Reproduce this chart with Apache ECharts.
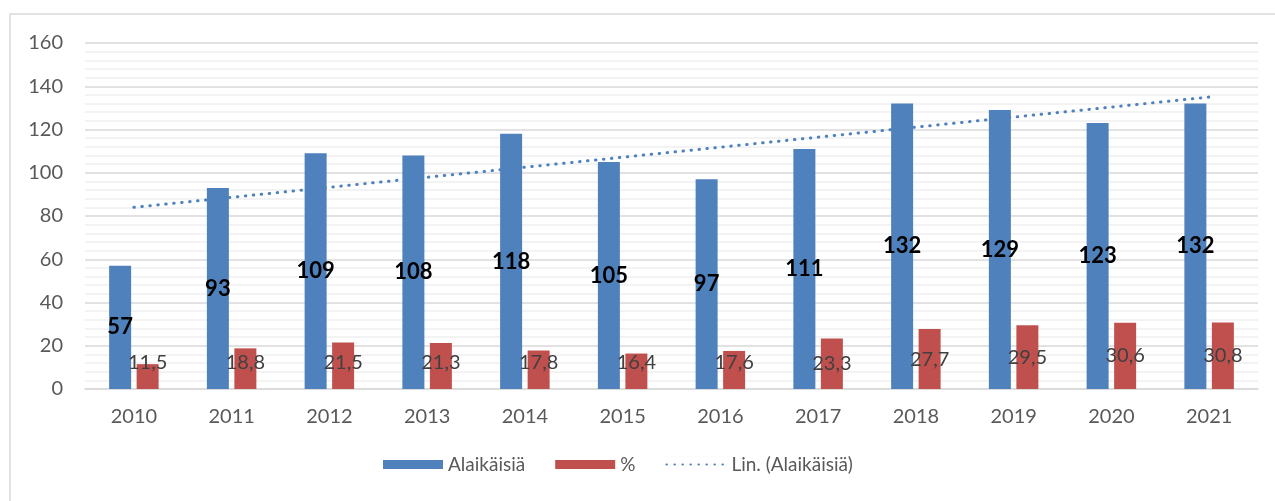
<!DOCTYPE html>
<html>
<head>
<meta charset="utf-8">
<script src="https://cdn.jsdelivr.net/npm/echarts@6/dist/echarts.min.js"></script>
<style>
html,body{margin:0;padding:0;background:#fff;}
#chart{width:1275px;height:501px;}
</style>
</head>
<body>
<div id="chart"></div>
<script>
// vuodet ja arvot
var years = ['2010','2011','2012','2013','2014','2015','2016','2017','2018','2019','2020','2021'];
var alaikaisia = [57, 93, 109, 108, 118, 105, 97, 111, 132, 129, 123, 132];
var prosentti = [11.5, 18.8, 21.5, 21.3, 17.8, 16.4, 17.6, 23.3, 27.7, 29.5, 30.6, 30.8];
// trendiviivan päätepisteet (luettu kuvasta)
var trendStart = 84;
var trendEnd = 135;
var yTicks = [0, 20, 40, 60, 80, 100, 120, 140, 160];

var font = 'Lato, "Open Sans", sans-serif';
var trendData = [];
for(var i=0;i<years.length;i++){
	trendData.push(null);
}
trendData[0] = trendStart;
trendData[years.length-1] = trendEnd;

var pctData = [];
for(var i=0;i<prosentti.length;i++){
	if(prosentti[i] < 22){
		pctData.push({value: prosentti[i], label: {position: 'insideBottom', distance: 16}});
	}
	else{
		pctData.push(prosentti[i]);
	}
}

var myChart = echarts.init(document.getElementById('chart'));
var option = {
	animation: false,
	textStyle: {fontFamily: font},
	graphic: [{
		type: 'rect',
		shape: {x: 10, y: 14, width: 1300, height: 600},
		style: {fill: 'none', stroke: '#d9d9d9', lineWidth: 1.5},
		silent: true
	}],
	grid: {left: 85, right: 17, top: 43, bottom: 112},
	legend: {
		bottom: 22,
		left: 378,
		itemWidth: 60,
		itemHeight: 9,
		itemGap: 30,
		textStyle: {color: '#595959', fontSize: 19, fontFamily: font},
		data: [
			{name: 'Alaikäisiä', icon: 'rect'},
			{name: '%', icon: 'rect'},
			{name: 'Lin. (Alaikäisiä)', icon: 'inherit', itemStyle: {color: 'rgba(0,0,0,0)', borderWidth: 0}}
		]
	},
	xAxis: {
		type: 'category',
		data: years,
		axisTick: {show: false},
		axisLine: {lineStyle: {color: '#d9d9d9', width: 1.5}},
		axisLabel: {color: '#595959', fontSize: 20, margin: 18, fontFamily: font}
	},
	yAxis: {
		type: 'value',
		min: yTicks[0],
		max: yTicks[yTicks.length-1],
		interval: 20,
		axisLine: {show: false},
		axisTick: {show: false},
		axisLabel: {color: '#595959', fontSize: 20, margin: 22, fontFamily: font},
		splitLine: {lineStyle: {color: '#d9d9d9', width: 1.5}},
		minorTick: {show: false, splitNumber: 5},
		minorSplitLine: {show: true, lineStyle: {color: '#efefef', width: 1.5}}
	},
	series: [
		{
			name: 'Alaikäisiä',
			type: 'bar',
			data: alaikaisia,
			barWidth: 22,
			barGap: '25%',
			itemStyle: {color: '#4f81bd'},
			label: {
				show: true,
				position: 'inside',
				color: '#000',
				fontWeight: 'bold',
				fontSize: 22,
				fontFamily: font
			},
			z: 3
		},
		{
			name: '%',
			type: 'bar',
			data: pctData,
			barWidth: 22,
			itemStyle: {color: '#c0504d'},
			label: {
				show: true,
				position: 'inside',
				color: '#404040',
				fontSize: 20,
				fontFamily: font,
				formatter: function(p){
					return String(p.value).replace('.', ',');
				}
			},
			z: 3
		},
		{
			name: 'Lin. (Alaikäisiä)',
			type: 'line',
			data: trendData,
			connectNulls: true,
			symbol: 'none',
			lineStyle: {color: '#4f81bd', width: 3, type: [0.5, 7.5], cap: 'round'},
			itemStyle: {color: '#4f81bd'},
			z: 4
		}
	]
};
myChart.setOption(option);
</script>
</body>
</html>
